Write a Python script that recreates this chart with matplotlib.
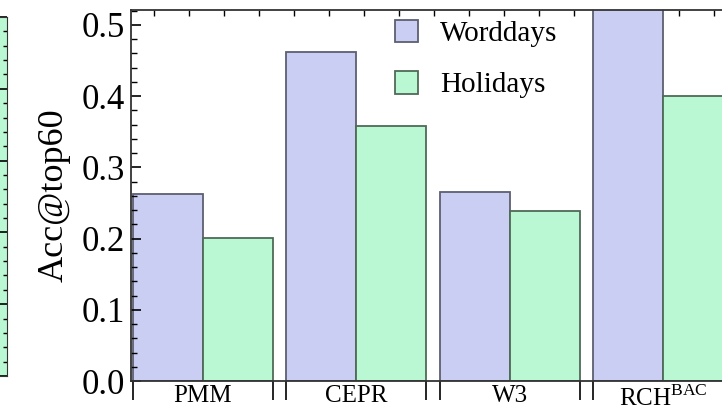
import matplotlib.pyplot as plt
from matplotlib.ticker import MultipleLocator
import numpy as np

plt.rcParams['font.family'] = ['Liberation Serif', 'DejaVu Serif']

methods = ['PMM', 'CEPR', 'W3', r'RCH$^{\mathregular{BAC}}$']
workdays = [0.263, 0.462, 0.265, 0.56]
holidays = [0.201, 0.358, 0.239, 0.400]

work_col = '#c9cef2'
work_edge = '#5c6070'
hol_col = '#b9f8d2'
hol_edge = '#4f6a58'

W, H = 722, 413
fig = plt.figure(figsize=(W / 100, H / 100), dpi=100)

# piece of the neighbouring panel on the left edge
axl = fig.add_axes([-0.05, (H - 376) / H, (7 + 36) / W, (376 - 17) / H])
axl.set_facecolor(hol_col)
axl.set_xticks([])
axl.yaxis.tick_right()
axl.yaxis.set_major_locator(MultipleLocator(0.1))
axl.yaxis.set_minor_locator(MultipleLocator(0.02))
axl.tick_params(axis='y', which='major', direction='in', length=5, width=1.2, labelright=False)
axl.tick_params(axis='y', which='minor', direction='in', length=3, width=1, labelright=False)
axl.set_ylim(0, 0.5)
for s in axl.spines.values():
    s.set_color('#333333')

# main panel; right side runs past the image edge
px_per_unit = 70.0
pitch = 2.19
x0 = 133
left_edge = np.arange(len(methods)) * pitch
xmin, xmax = -0.03, left_edge[-1] + 2 + 0.05
ax_left = x0 + xmin * px_per_unit
ax_w = (xmax - xmin) * px_per_unit
ax_h = 381 - 10
ax = fig.add_axes([ax_left / W, (H - 381) / H, ax_w / W, ax_h / H])

ax.bar(left_edge + 0.5, workdays, width=1, color=work_col, edgecolor=work_edge,
       linewidth=1.3, label='Worddays')
ax.bar(left_edge + 1.5, holidays, width=1, color=hol_col, edgecolor=hol_edge,
       linewidth=1.3, label='Holidays')

ax.set_xlim(xmin, xmax)
ax.set_ylim(0, 0.521)
ax.yaxis.set_major_locator(MultipleLocator(0.1))
ax.yaxis.set_minor_locator(MultipleLocator(0.02))
ax.tick_params(axis='y', which='major', direction='in', length=7, width=1.2, labelsize=25, pad=4)
ax.tick_params(axis='y', which='minor', direction='in', length=4, width=1)
ax.yaxis.set_major_formatter(plt.FuncFormatter(lambda v, p: f'{v:.1f}'))

# group boundary ticks below the axis, labels at group centres
bounds = np.concatenate([left_edge, left_edge + 2])
ax.set_xticks(bounds)
ax.set_xticklabels([])
ax.tick_params(axis='x', which='major', direction='out', length=14, width=1.2, top=False)
for x, name in zip(left_edge + 1, methods):
    ax.text(x, -0.012, name, ha='center', va='top', fontsize=18,
            transform=ax.get_xaxis_transform())

# small ticks on the top frame
top = ax.secondary_xaxis('top')
top.set_xticks(np.arange(-2, 20) * 0.5 + 0.3)
top.set_xticklabels([])
top.tick_params(direction='in', length=4, width=1)
top.spines['top'].set_visible(False)

ax.set_ylabel('Acc@top60', fontsize=26, labelpad=8)

for s in ax.spines.values():
    s.set_linewidth(1.3)
    s.set_color('#333333')
ax.spines['right'].set_visible(False)

ax.legend(loc='upper left', bbox_to_anchor=((395 - ax_left) / ax_w, 1 - (20 - 10) / ax_h),
          frameon=False, fontsize=21, handlelength=0.8, handleheight=0.8,
          handletextpad=0.75, labelspacing=0.82, borderpad=0, borderaxespad=0)

fig.savefig('out.png', dpi=100)
